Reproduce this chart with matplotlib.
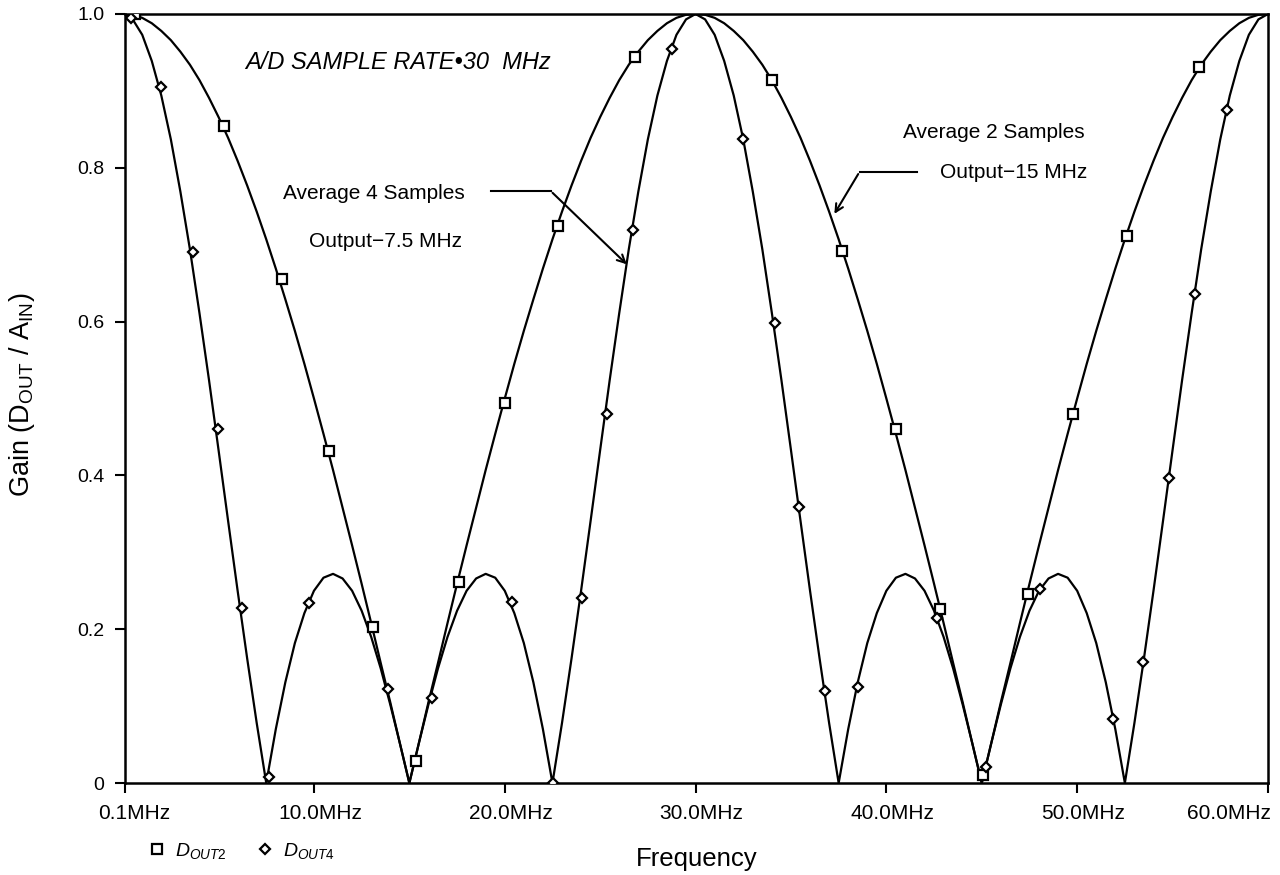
import matplotlib
matplotlib.use("Agg")
import matplotlib.pyplot as plt
import matplotlib.transforms as mtransforms

plt.rcParams['font.family'] = ['Liberation Sans', 'DejaVu Sans']
plt.rcParams['mathtext.fontset'] = 'custom'
plt.rcParams['mathtext.rm'] = 'Liberation Sans'
plt.rcParams['mathtext.it'] = 'Liberation Sans:italic'

# curve samples (MHz, gain) every 0.5 MHz
freq = [0.1, 0.5, 1, 1.5, 2, 2.5, 3, 3.5, 4, 4.5, 5, 5.5, 6, 6.5, 7, 7.5, 8, 8.5, 9, 9.5,
        10, 10.5, 11, 11.5, 12, 12.5, 13, 13.5, 14, 14.5, 15, 15.5, 16, 16.5, 17, 17.5, 18, 18.5, 19, 19.5,
        20, 20.5, 21, 21.5, 22, 22.5, 23, 23.5, 24, 24.5, 25, 25.5, 26, 26.5, 27, 27.5, 28, 28.5, 29, 29.5,
        30, 30.5, 31, 31.5, 32, 32.5, 33, 33.5, 34, 34.5, 35, 35.5, 36, 36.5, 37, 37.5, 38, 38.5, 39, 39.5,
        40, 40.5, 41, 41.5, 42, 42.5, 43, 43.5, 44, 44.5, 45, 45.5, 46, 46.5, 47, 47.5, 48, 48.5, 49, 49.5,
        50, 50.5, 51, 51.5, 52, 52.5, 53, 53.5, 54, 54.5, 55, 55.5, 56, 56.5, 57, 57.5, 58, 58.5, 59, 59.5, 60]

dout2 = [1.000, 0.999, 0.995, 0.988, 0.978, 0.966, 0.951, 0.934, 0.914, 0.891, 0.866, 0.839, 0.809, 0.777, 0.743, 0.707, 0.669, 0.629, 0.588, 0.545,
         0.500, 0.454, 0.407, 0.358, 0.309, 0.259, 0.208, 0.156, 0.105, 0.052, 0.000, 0.052, 0.105, 0.156, 0.208, 0.259, 0.309, 0.358, 0.407, 0.454,
         0.500, 0.545, 0.588, 0.629, 0.669, 0.707, 0.743, 0.777, 0.809, 0.839, 0.866, 0.891, 0.914, 0.934, 0.951, 0.966, 0.978, 0.988, 0.995, 0.999,
         1.000, 0.999, 0.995, 0.988, 0.978, 0.966, 0.951, 0.934, 0.914, 0.891, 0.866, 0.839, 0.809, 0.777, 0.743, 0.707, 0.669, 0.629, 0.588, 0.545,
         0.500, 0.454, 0.407, 0.358, 0.309, 0.259, 0.208, 0.156, 0.105, 0.052, 0.000, 0.052, 0.105, 0.156, 0.208, 0.259, 0.309, 0.358, 0.407, 0.454,
         0.500, 0.545, 0.588, 0.629, 0.669, 0.707, 0.743, 0.777, 0.809, 0.839, 0.866, 0.891, 0.914, 0.934, 0.951, 0.966, 0.978, 0.988, 0.995, 0.999, 1.000]

dout4 = [1.000, 0.993, 0.973, 0.939, 0.894, 0.837, 0.769, 0.694, 0.611, 0.524, 0.433, 0.341, 0.250, 0.162, 0.078, 0.000, 0.070, 0.131, 0.182, 0.221,
         0.250, 0.267, 0.272, 0.266, 0.250, 0.224, 0.190, 0.149, 0.102, 0.052, 0.000, 0.052, 0.102, 0.149, 0.190, 0.224, 0.250, 0.266, 0.272, 0.267,
         0.250, 0.221, 0.182, 0.131, 0.070, 0.000, 0.078, 0.162, 0.250, 0.341, 0.433, 0.524, 0.611, 0.694, 0.769, 0.837, 0.894, 0.939, 0.973, 0.993,
         1.000, 0.993, 0.973, 0.939, 0.894, 0.837, 0.769, 0.694, 0.611, 0.524, 0.433, 0.341, 0.250, 0.162, 0.078, 0.000, 0.070, 0.131, 0.182, 0.221,
         0.250, 0.267, 0.272, 0.266, 0.250, 0.224, 0.190, 0.149, 0.102, 0.052, 0.000, 0.052, 0.102, 0.149, 0.190, 0.224, 0.250, 0.266, 0.272, 0.267,
         0.250, 0.221, 0.182, 0.131, 0.070, 0.000, 0.078, 0.162, 0.250, 0.341, 0.433, 0.524, 0.611, 0.694, 0.769, 0.837, 0.894, 0.939, 0.973, 0.993, 1.000]

# marker points
sq_f = [0.6, 5.3, 8.3, 10.8, 13.1, 15.35, 17.6, 20.0, 22.8, 26.8, 34.0, 37.7, 40.5, 42.8, 45.05, 47.4, 49.8, 52.6, 56.4]
sq_g = [1.0, 0.855, 0.655, 0.432, 0.203, 0.029, 0.261, 0.494, 0.724, 0.944, 0.914, 0.692, 0.460, 0.226, 0.010, 0.246, 0.480, 0.711, 0.931]
di_f = [0.4, 1.99, 3.66, 4.97, 6.23, 7.65, 9.74, 13.88, 16.19, 20.38, 22.53, 24.05, 25.36, 26.72, 28.77,
        32.49, 34.17, 35.42, 36.79, 38.52, 42.66, 45.2, 48.06, 51.88, 53.45, 54.82, 56.18, 57.85]
di_g = [0.995, 0.905, 0.690, 0.460, 0.228, 0.008, 0.234, 0.122, 0.111, 0.235, 0.000, 0.241, 0.480, 0.719, 0.954,
        0.837, 0.598, 0.359, 0.120, 0.125, 0.215, 0.021, 0.252, 0.083, 0.157, 0.397, 0.636, 0.875]

xticks = [0.1, 10, 20, 30, 40, 50, 60]
xlabels = ['0.1MHz', '10.0MHz', '20.0MHz', '30.0MHz', '40.0MHz', '50.0MHz', '60.0MHz']
yticks = [0, 0.2, 0.4, 0.6, 0.8, 1.0]
ylabels = ['0', '0.2', '0.4', '0.6', '0.8', '1.0']

fig = plt.figure(figsize=(12.8, 8.75), dpi=100)
ax = fig.add_axes([0.0977, 0.1051, 0.8929, 0.8789])

ax.plot(freq, dout2, color='black', lw=1.6, zorder=2)
ax.plot(freq, dout4, color='black', lw=1.6, zorder=2)
ax.plot(sq_f, sq_g, ls='none', marker='s', ms=6.5, mfc='white', mec='black', mew=1.6,
        label='$D_{OUT2}$', zorder=3)
ax.plot(di_f, di_g, ls='none', marker='D', ms=5, mfc='white', mec='black', mew=1.6,
        label='$D_{OUT4}$', zorder=3)

ax.set_xlim(0.1, 60)
ax.set_ylim(0, 1.0)
ax.set_xticks(xticks)
ax.set_xticklabels(xlabels)
ax.set_yticks(yticks)
ax.set_yticklabels(ylabels)
ax.tick_params(direction='out', length=7, width=1.5, pad=8)
ax.tick_params(axis='x', labelsize=15)
ax.tick_params(axis='y', labelsize=14)
for s in ax.spines.values():
    s.set_linewidth(1.8)

# nudge x tick labels right (px) like the original; last one ends at the axis end
shifts = [9, 6, 6, 6, 6, 6, 3]
for lab, dx in zip(ax.get_xticklabels(), shifts):
    lab.set_transform(lab.get_transform() + mtransforms.ScaledTranslation(dx / 100, 0, fig.dpi_scale_trans))
ax.get_xticklabels()[-1].set_horizontalalignment('right')

ax.set_xlabel('Frequency', fontsize=18.5)
ax.xaxis.set_label_coords(0.5, -0.083)
ax.set_ylabel('Gain (D$_{\\mathrm{OUT}}$ / A$_{\\mathrm{IN}}$)', fontsize=19.5)
ax.yaxis.set_label_coords(-0.077, 0.505)

# annotations
ax.text(6.4, 0.937, 'A/D SAMPLE RATE\u202230  MHz', fontsize=17, style='italic', va='center')
ax.text(17.9, 0.766, 'Average 4 Samples', fontsize=15, va='center', ha='right')
ax.text(17.75, 0.704, 'Output\u22127.5 MHz', fontsize=15, va='center', ha='right')
ax.text(50.4, 0.846, 'Average 2 Samples', fontsize=15, va='center', ha='right')
ax.text(50.55, 0.794, 'Output\u221215 MHz', fontsize=15, va='center', ha='right')

ax.plot([19.3, 22.4], [0.77, 0.77], color='black', lw=1.5)
ax.annotate('', xy=(26.5, 0.672), xytext=(22.4, 0.77),
            arrowprops=dict(arrowstyle='->', color='black', lw=1.5, mutation_scale=14))
ax.plot([41.6, 38.6], [0.795, 0.795], color='black', lw=1.5)
ax.annotate('', xy=(37.2, 0.737), xytext=(38.6, 0.795),
            arrowprops=dict(arrowstyle='->', color='black', lw=1.5, mutation_scale=14))

fig.legend(loc='lower left', bbox_to_anchor=(0.102, -0.004), ncol=2, frameon=False,
           fontsize=14, handlelength=0.9, handletextpad=0.5, columnspacing=1.5)

fig.savefig('out.png', dpi=100)
